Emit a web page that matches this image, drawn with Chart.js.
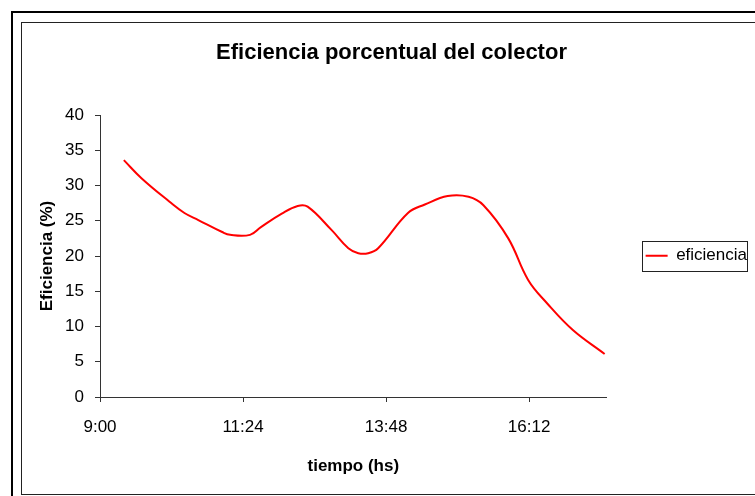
<!DOCTYPE html>
<html>
<head>
<meta charset="utf-8">
<script src="https://cdn.jsdelivr.net/npm/chart.js@4.4.0/dist/chart.umd.min.js"></script>
<style>
    html, body {
        margin: 0;
        padding: 0;
        background: #fff;
        overflow: hidden;
    }
    #wrap {
        position: relative;
        width: 755px;
        height: 496px;
        overflow: hidden;
    }
    .frame-outer {
        position: absolute;
        left: 11px;
        top: 11px;
        width: 800px;
        height: 540px;
        border: 2px solid #000;
    }
    .frame-inner {
        position: absolute;
        left: 21px;
        top: 22px;
        width: 800px;
        height: 471px;
        border: 1px solid #222;
    }
    canvas {
        position: absolute;
        left: 0;
        top: 0;
    }
</style>
</head>
<body>
<div id="wrap">
    <div class="frame-outer"></div>
    <div class="frame-inner"></div>
    <canvas id="chart" width="755" height="496"></canvas>
</div>
<script>
// measured times (h:mm) and collector efficiency (%)
const times = ["9:24", "9:42", "10:10", "10:25", "10:39", "11:03", "11:11", "11:31", "11:42",
    "12:03", "12:19", "12:29", "12:53", "13:10", "13:20", "13:30", "13:40", "14:10", "14:27",
    "14:50", "15:11", "15:26", "15:51", "16:11", "16:30", "16:56", "17:28"];
const eficiencia = [33.6, 31.0, 27.7, 26.1, 25.1, 23.4, 23.0, 23.0, 24.1,
    26.0, 27.1, 27.0, 23.7, 21.1, 20.4, 20.4, 21.1, 26.1, 27.3,
    28.5, 28.4, 27.2, 22.5, 16.6, 13.3, 9.5, 6.1];
const xTickLabels = ["9:00", "11:24", "13:48", "16:12"];
const xRange = ["9:00", "17:30"];

const toMin = (s) => {
    const [h, m] = s.split(":").map(Number);
    return h * 60 + m;
};
const fmt = (v) => Math.floor(v / 60) + ":" + String(Math.round(v % 60)).padStart(2, "0");

const font = "'Liberation Sans', Arial, sans-serif";
Chart.defaults.color = "#000";
Chart.defaults.font.family = font;

// thin frame round the legend entry, like the spreadsheet legend
const legendBox = {
    id: "legendBox",
    afterDraw(chart) {
        const hb = chart.legend && chart.legend.legendHitBoxes[0];
        if (!hb) return;
        const ctx = chart.ctx;
        const cy = hb.top + hb.height / 2;
        ctx.save();
        ctx.strokeStyle = "#222";
        ctx.lineWidth = 1;
        ctx.strokeRect(Math.round(hb.left - 4) + 0.5, Math.round(cy - 15) + 0.5, Math.round(hb.width) + 4, 30);
        ctx.restore();
    }
};

new Chart(document.getElementById("chart"), {
    type: "line",
    data: {
        datasets: [{
            label: "eficiencia",
            data: times.map((t, i) => ({x: toMin(t), y: eficiencia[i]})),
            borderColor: "#ff0000",
            backgroundColor: "#ff0000",
            borderWidth: 2,
            pointRadius: 0,
            tension: 0.4,
            fill: false
        }]
    },
    options: {
        responsive: false,
        animation: false,
        layout: {padding: {left: 26, top: 0, right: -2, bottom: 0}},
        plugins: {
            title: {
                display: true,
                text: "Eficiencia porcentual del colector",
                font: {size: 22, weight: "bold"},
                color: "#000",
                padding: {top: 40, bottom: 48.6}
            },
            legend: {
                position: "right",
                title: {display: true, text: " ", padding: 0, font: {size: 13}},
                labels: {
                    usePointStyle: true,
                    pointStyle: "line",
                    pointStyleWidth: 22,
                    padding: 39,
                    color: "#000",
                    font: {size: 17}
                }
            },
            tooltip: {enabled: false}
        },
        scales: {
            x: {
                type: "linear",
                min: toMin(xRange[0]),
                max: toMin(xRange[1]),
                afterBuildTicks: (scale) => {
                    scale.ticks = xTickLabels.map(l => ({value: toMin(l)}));
                },
                afterFit: (scale) => { scale.height = 99; },
                ticks: {
                    callback: (v) => fmt(v),
                    font: {size: 17},
                    color: "#000",
                    padding: 15,
                    maxRotation: 0
                },
                grid: {drawOnChartArea: false, drawTicks: true, tickLength: 5, color: "#333"},
                border: {display: true, color: "#333"},
                title: {
                    display: true,
                    text: "tiempo (hs)",
                    font: {size: 17, weight: "bold"},
                    color: "#000",
                    padding: {top: 0, bottom: 19}
                }
            },
            y: {
                min: 0,
                max: 40,
                ticks: {stepSize: 5, font: {size: 17}, color: "#000", padding: 11},
                afterFit: (scale) => { scale.width = 74; },
                grid: {drawOnChartArea: false, drawTicks: true, tickLength: 5, color: "#333"},
                border: {display: true, color: "#333"},
                title: {
                    display: true,
                    text: "Eficiencia (%)",
                    font: {size: 17, weight: "bold"},
                    color: "#000",
                    padding: {top: 11, bottom: 0}
                }
            }
        }
    },
    plugins: [legendBox]
});
</script>
</body>
</html>
